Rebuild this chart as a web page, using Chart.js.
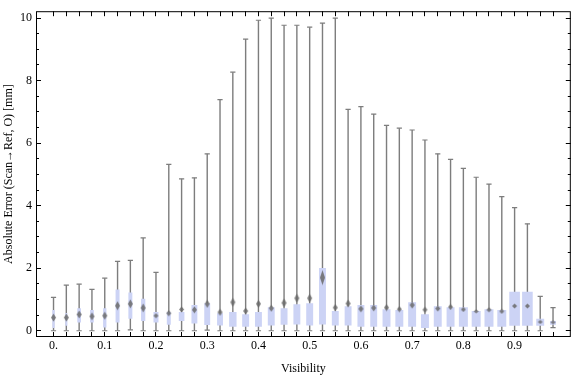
<!DOCTYPE html>
<html>
<head>
<meta charset="utf-8">
<script src="https://cdn.jsdelivr.net/npm/chart.js@4.4.1/dist/chart.umd.min.js"></script>
<style>
  body { margin: 0; background: #fff; }
</style>
</head>
<body>
<canvas id="errorChart" width="576" height="377"></canvas>
<script>
// Data: one box per visibility step
const visibility = [0, 0.025, 0.05, 0.075, 0.1, 0.125, 0.15, 0.175, 0.2, 0.225, 0.25, 0.275, 0.3, 0.325, 0.35, 0.375,
  0.4, 0.425, 0.45, 0.475, 0.5, 0.525, 0.55, 0.575, 0.6, 0.625, 0.65, 0.675, 0.7, 0.725, 0.75, 0.775,
  0.8, 0.825, 0.85, 0.875, 0.9, 0.925, 0.95, 0.975];
const whiskerLow = [0, 0, 0, 0, 0, 0, 0.03, 0, 0, 0, 0, 0, 0.02, 0, 0, 0,
  0, 0, 0, 0, 0, 0, 0, 0, 0, 0, 0, 0, 0, 0, 0, 0,
  0, 0, 0, 0, 0, 0, 0, 0.10];
const whiskerHigh = [1.07, 1.46, 1.49, 1.32, 1.68, 2.22, 2.25, 2.97, 1.87, 5.32, 4.86, 4.89, 5.66, 7.39, 8.27, 9.33,
  9.93, 10.0, 9.77, 9.77, 9.71, 9.84, 10.0, 7.08, 7.17, 6.93, 6.57, 6.48, 6.42, 6.10, 5.66, 5.48,
  5.19, 4.91, 4.69, 4.29, 3.94, 3.42, 1.10, 0.74];
const boxLow = [0.09, 0.16, 0.26, 0.26, 0.10, 0.26, 0.38, 0.31, 0.26, 0.19, 0.31, 0.23, 0.18, 0.17, 0.13, 0.13,
  0.13, 0.17, 0.19, 0.20, 0.17, 0.20, 0.17, 0.17, 0.13, 0.13, 0.13, 0.13, 0.13, 0.09, 0.13, 0.13,
  0.13, 0.13, 0.13, 0.13, 0.16, 0.16, 0.16, 0.19];
const boxHigh = [0.66, 0.57, 0.72, 0.66, 0.72, 1.32, 1.22, 1.02, 0.60, 0.60, 0.60, 0.82, 0.88, 0.56, 0.60, 0.53,
  0.60, 0.75, 0.72, 0.85, 0.88, 2.01, 0.63, 0.78, 0.82, 0.82, 0.69, 0.66, 0.91, 0.53, 0.78, 0.75,
  0.75, 0.63, 0.69, 0.66, 1.25, 1.25, 0.38, 0.31];
const meanError = [0.42, 0.42, 0.52, 0.46, 0.48, 0.80, 0.86, 0.73, 0.48, 0.56, 0.68, 0.67, 0.86, 0.59, 0.91, 0.63,
  0.86, 0.72, 0.89, 1.04, 1.04, 1.70, 0.74, 0.87, 0.70, 0.73, 0.74, 0.69, 0.82, 0.67, 0.71, 0.76,
  0.68, 0.62, 0.67, 0.62, 0.79, 0.79, 0.28, 0.27];
// spread of the mean marker (mm)
const meanSpread = [0.22, 0.22, 0.22, 0.22, 0.22, 0.25, 0.25, 0.25, 0.13, 0.16, 0.16, 0.19, 0.22, 0.19, 0.25, 0.19,
  0.22, 0.19, 0.25, 0.25, 0.25, 0.44, 0.19, 0.22, 0.19, 0.19, 0.19, 0.16, 0.19, 0.16, 0.16, 0.16,
  0.13, 0.09, 0.13, 0.13, 0.13, 0.13, 0.05, 0.05];
// relative box width (sample share)
const boxShare = [0.18, 0.16, 0.29, 0.29, 0.26, 0.31, 0.31, 0.33, 0.39, 0.31, 0.44, 0.46, 0.46, 0.46, 0.58, 0.54,
  0.54, 0.54, 0.54, 0.54, 0.54, 0.54, 0.54, 0.54, 0.54, 0.54, 0.62, 0.62, 0.62, 0.62, 0.62, 0.62,
  0.70, 0.70, 0.70, 0.70, 0.83, 0.83, 0.62, 0.46];
const xTicks = [0, 0.1, 0.2, 0.3, 0.4, 0.5, 0.6, 0.7, 0.8, 0.9];
const xTickLabels = ['0.', '0.1', '0.2', '0.3', '0.4', '0.5', '0.6', '0.7', '0.8', '0.9'];
const yTicks = [0, 2, 4, 6, 8, 10];

const gray = 'rgb(125,125,125)';
const boxColor = 'rgb(204,211,245)';
const serif = "'Liberation Serif', 'Times New Roman', serif";

// Mean marker: small vertical diamond
const markerCache = {};
function markerFor(h) {
  const hh = Math.max(3, Math.round(h));
  if (markerCache[hh]) return markerCache[hh];
  const c = document.createElement('canvas');
  c.width = 7;
  c.height = hh + 2;
  const g = c.getContext('2d');
  g.fillStyle = 'rgba(105,105,105,0.85)';
  g.beginPath();
  g.moveTo(3.5, 0.5);
  g.lineTo(6, c.height / 2);
  g.lineTo(3.5, c.height - 0.5);
  g.lineTo(1, c.height / 2);
  g.closePath();
  g.fill();
  markerCache[hh] = c;
  return c;
}

// Boxes grouped by width
const boxSets = [];
[...new Set(boxShare)].forEach(share => {
  const pts = [];
  visibility.forEach((v, i) => {
    if (boxShare[i] === share) pts.push({ x: v, y: [boxLow[i], boxHigh[i]] });
  });
  boxSets.push({
    type: 'bar',
    data: pts,
    backgroundColor: boxColor,
    borderWidth: 0,
    grouped: false,
    categoryPercentage: 1,
    barPercentage: share,
    order: 2
  });
});

const datasets = [
  {
    type: 'bar',
    data: visibility.map((v, i) => ({ x: v, y: [whiskerLow[i], whiskerHigh[i]] })),
    backgroundColor: gray,
    borderWidth: 0,
    grouped: false,
    categoryPercentage: 1,
    barPercentage: 0.11,
    order: 4
  },
  {
    type: 'scatter',
    data: visibility.map((v, i) => ({ x: v, y: whiskerLow[i] })),
    pointStyle: 'line', pointRadius: 2.6, borderColor: gray, borderWidth: 1.2,
    order: 3
  },
  {
    type: 'scatter',
    data: visibility.map((v, i) => ({ x: v, y: whiskerHigh[i] })),
    pointStyle: 'line', pointRadius: 2.6, borderColor: gray, borderWidth: 1.2,
    order: 3
  },
  ...boxSets,
  {
    type: 'scatter',
    data: visibility.map((v, i) => ({ x: v, y: meanError[i] })),
    pointRadius: 3,
    pointStyle: ctx => {
      const ys = ctx.chart.scales.y;
      if (ctx.dataIndex === undefined || !ys) return 'circle';
      const h = ys.getPixelForValue(0) - ys.getPixelForValue(meanSpread[ctx.dataIndex]);
      return markerFor(h);
    },
    order: 1
  }
];

// Frame with inward ticks
const frameTicks = {
  id: 'frameTicks',
  afterDraw(chart) {
    const { ctx, chartArea: a, scales: { x, y } } = chart;
    ctx.save();
    ctx.strokeStyle = '#000';
    ctx.lineWidth = 1;
    ctx.beginPath();
    visibility.forEach(v => {
      const px = Math.floor(x.getPixelForValue(v)) + 0.5;
      ctx.moveTo(px, a.bottom); ctx.lineTo(px, a.bottom - 5);
      ctx.moveTo(px, a.top); ctx.lineTo(px, a.top + 5);
    });
    for (let v = 0; v <= 10; v += 0.5) {
      const py = Math.floor(y.getPixelForValue(v)) + 0.5;
      const len = yTicks.includes(v) ? 5 : 3;
      ctx.moveTo(a.left, py); ctx.lineTo(a.left + len, py);
      ctx.moveTo(a.right, py); ctx.lineTo(a.right - len, py);
    }
    ctx.stroke();
    ctx.strokeRect(a.left + 0.5, a.top + 0.5, a.right - a.left - 1, a.bottom - a.top - 1);
    ctx.restore();
  }
};

new Chart(document.getElementById('errorChart'), {
  data: { datasets },
  plugins: [frameTicks],
  options: {
    responsive: false,
    animation: false,
    layout: { padding: { top: 4, right: 0, bottom: 0, left: 0 } },
    plugins: { legend: { display: false }, tooltip: { enabled: false } },
    scales: {
      x: {
        type: 'linear',
        min: -0.0342,
        max: 1.0097,
        offset: false,
        grid: { display: false, drawTicks: false },
        border: { display: false },
        afterBuildTicks: s => { s.ticks = xTicks.map(v => ({ value: v })); },
        afterFit: s => { s.height = 40; },
        ticks: {
          callback: (v, i) => xTickLabels[i],
          maxRotation: 0,
          autoSkip: false,
          padding: 2,
          color: '#000',
          font: { family: serif, size: 12 }
        },
        title: {
          display: true,
          text: 'Visibility',
          color: '#000',
          padding: { top: 0, bottom: 1 },
          font: { family: serif, size: 12 }
        }
      },
      y: {
        type: 'linear',
        min: -0.2,
        max: 10.22,
        grid: { display: false, drawTicks: false },
        border: { display: false },
        afterBuildTicks: s => { s.ticks = yTicks.map(v => ({ value: v })); },
        afterFit: s => { s.width = 36; },
        ticks: {
          callback: v => String(v),
          padding: 4,
          color: '#000',
          font: { family: serif, size: 12 }
        },
        title: {
          display: true,
          text: 'Absolute Error (Scan\u2192Ref, O) [mm]',
          color: '#000',
          padding: { top: 2, bottom: 0 },
          font: { family: serif, size: 12 }
        }
      }
    }
  }
});
</script>
</body>
</html>
